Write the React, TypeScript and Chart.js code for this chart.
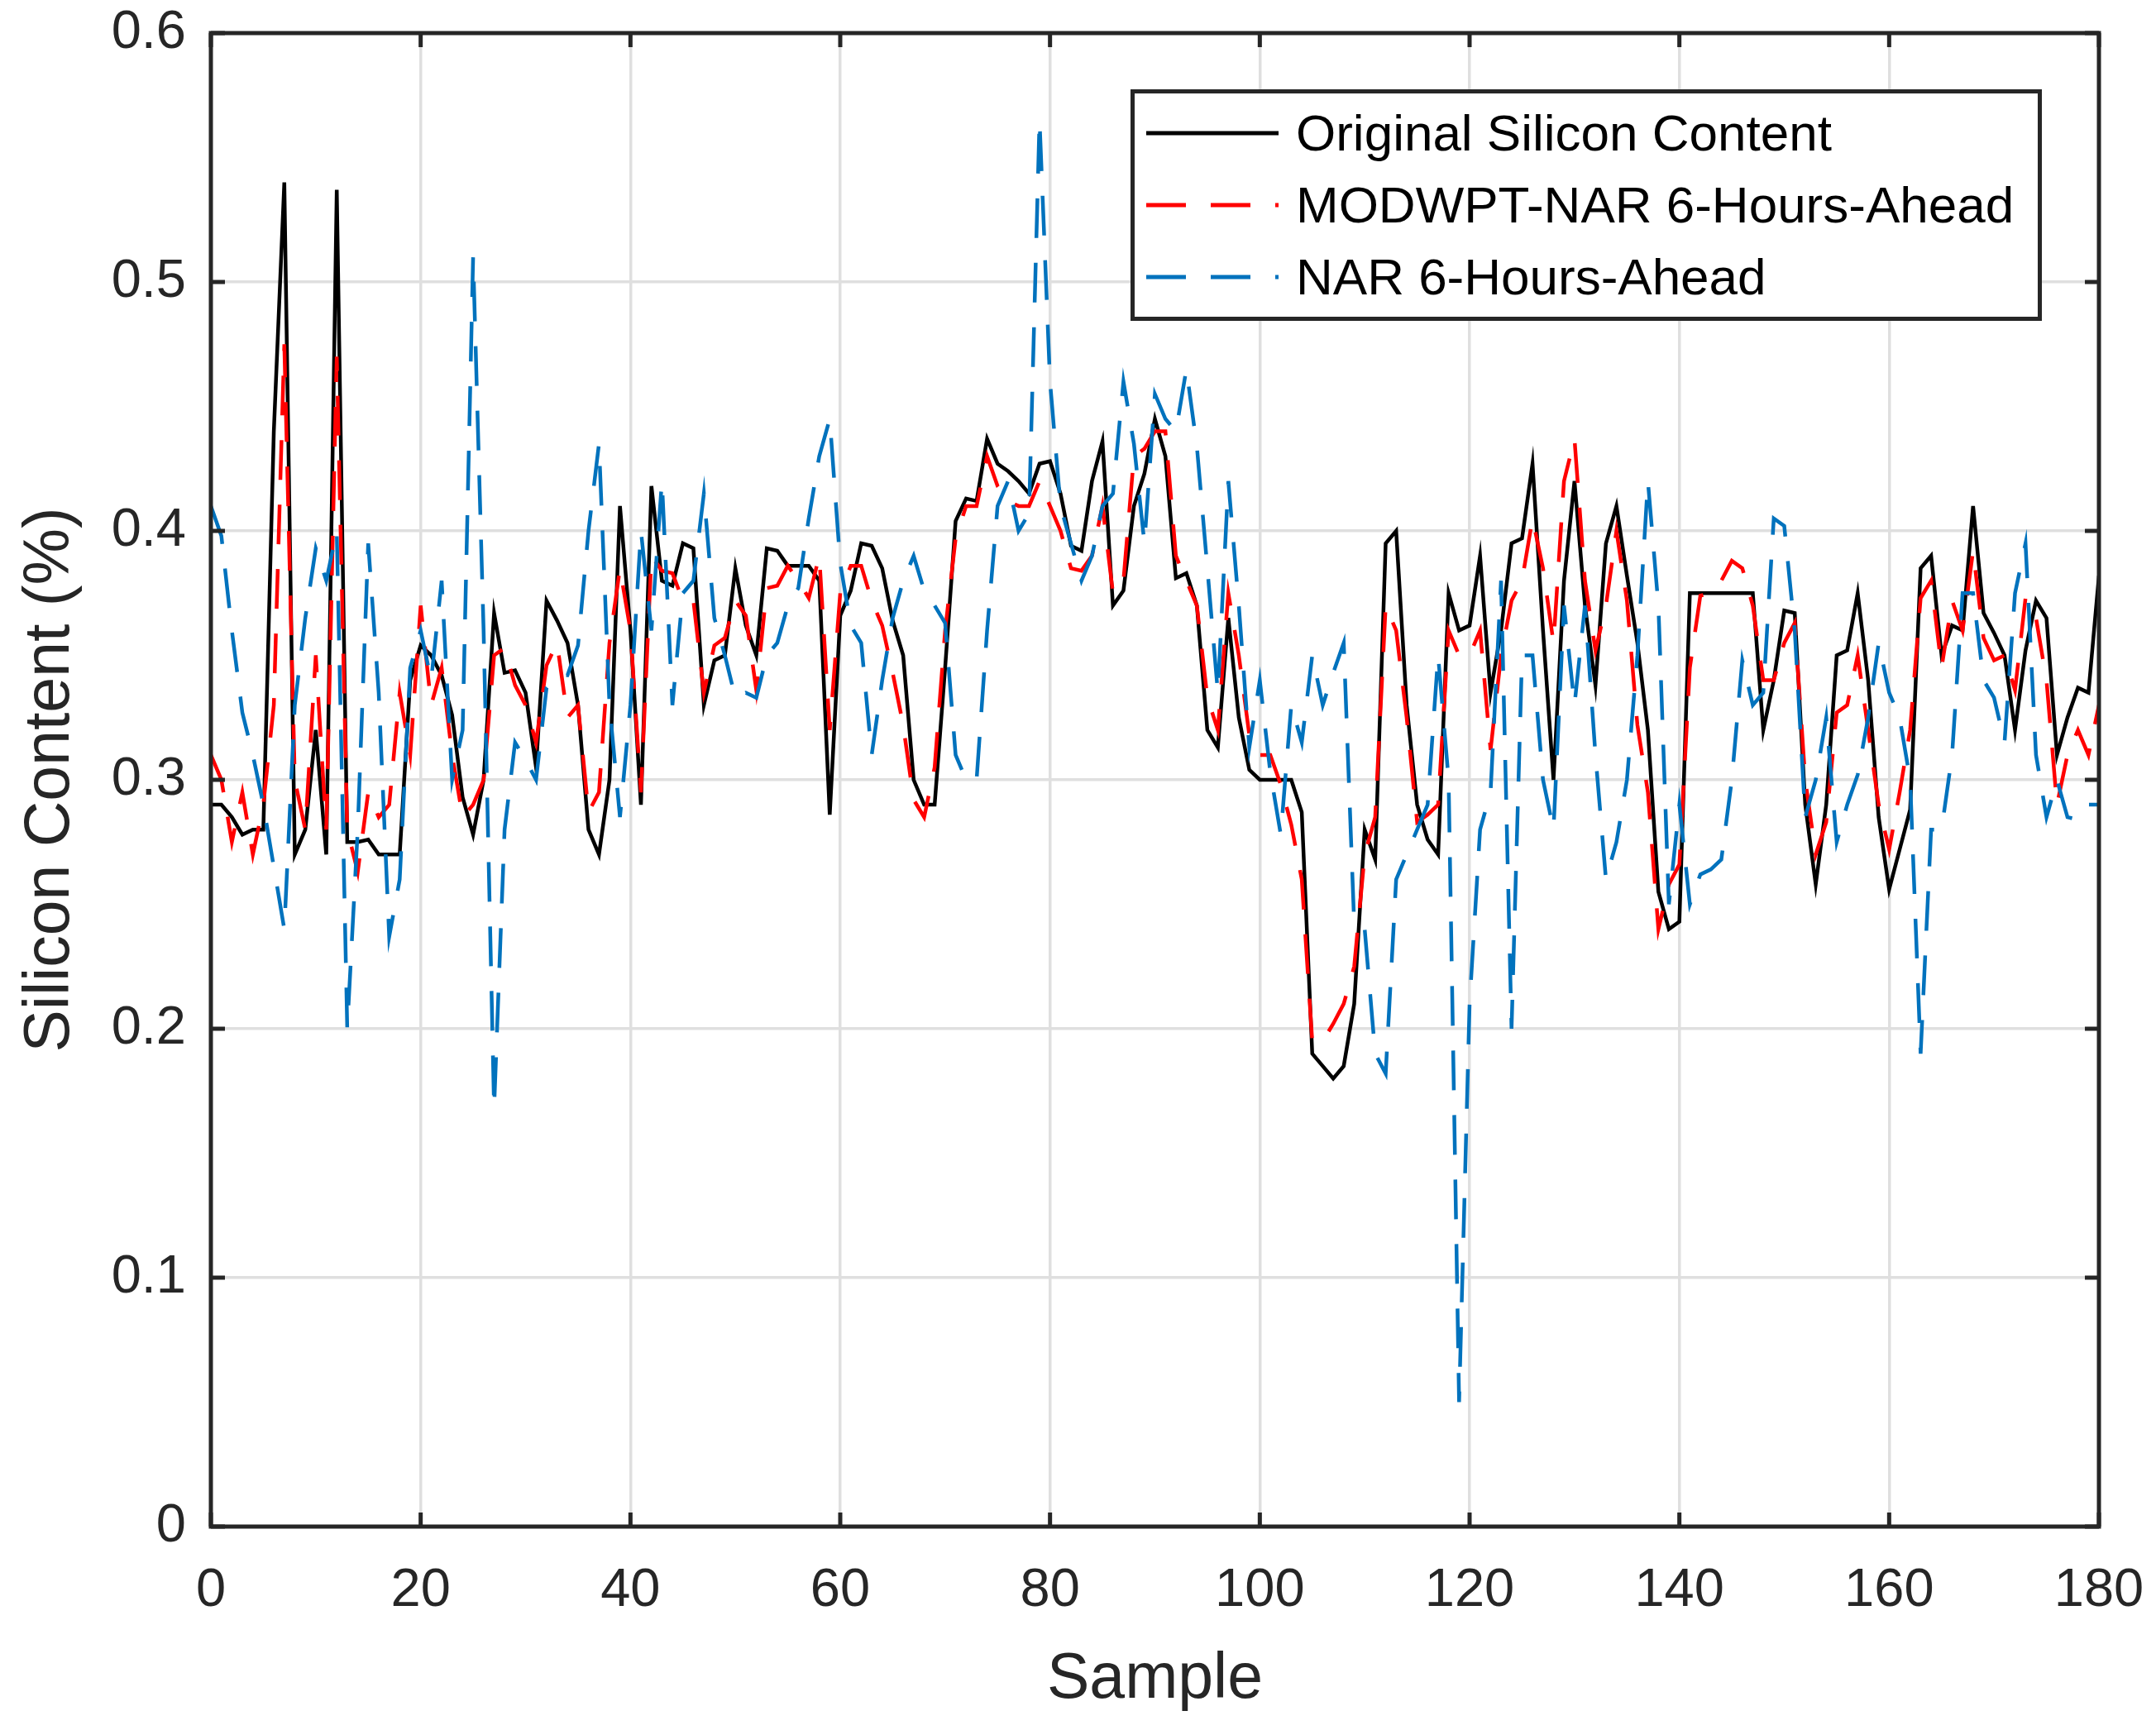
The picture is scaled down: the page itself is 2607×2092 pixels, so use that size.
import React, { useEffect, useRef } from 'react';
import Chart from 'chart.js/auto';

// === Data (one value per sample 0..180) ===
const SAMPLE_MIN = 0;
const SAMPLE_MAX = 180;
const SAMPLE_STEP = 20;
const VALUE_MIN = 0;
const VALUE_MAX = 0.6;
const VALUE_STEP = 0.1;

const ORIGINAL_SILICON = [
  0.29, 0.29, 0.285, 0.278, 0.28, 0.28, 0.44, 0.54, 0.27, 0.28,
  0.32, 0.27, 0.537, 0.275, 0.275, 0.276, 0.27, 0.27, 0.27, 0.34,
  0.354, 0.35, 0.342, 0.326, 0.293, 0.278, 0.3, 0.367, 0.343, 0.344,
  0.335, 0.305, 0.372, 0.364, 0.355, 0.33, 0.28, 0.27, 0.3, 0.41,
  0.36, 0.29, 0.418, 0.38, 0.378, 0.395, 0.393, 0.33, 0.348, 0.35,
  0.385, 0.362, 0.35, 0.393, 0.392, 0.386, 0.386, 0.386, 0.38, 0.286,
  0.366, 0.376, 0.395, 0.394, 0.385, 0.364, 0.35, 0.3, 0.29, 0.29,
  0.345, 0.404, 0.413, 0.412, 0.437, 0.427, 0.424, 0.42, 0.415, 0.427,
  0.428, 0.415, 0.394, 0.392, 0.42, 0.436, 0.37, 0.376, 0.41, 0.423,
  0.445, 0.43, 0.381, 0.383, 0.37, 0.32, 0.313, 0.365, 0.325, 0.304,
  0.3, 0.3, 0.3, 0.3, 0.287, 0.19, 0.185, 0.18, 0.185, 0.21,
  0.28, 0.268, 0.395, 0.4, 0.33, 0.29, 0.276, 0.27, 0.375, 0.36,
  0.362, 0.39, 0.335, 0.36, 0.395, 0.397, 0.427, 0.36, 0.3, 0.38,
  0.42, 0.37, 0.338, 0.395, 0.41, 0.382, 0.355, 0.32, 0.255, 0.24,
  0.243, 0.375, 0.375, 0.375, 0.375, 0.375, 0.375, 0.375, 0.32, 0.34,
  0.368, 0.367, 0.29, 0.258, 0.29, 0.35, 0.352, 0.375, 0.34, 0.285,
  0.256, 0.272, 0.288, 0.385, 0.39, 0.35, 0.362, 0.36, 0.41, 0.367,
  0.359, 0.35, 0.32, 0.352, 0.372, 0.365, 0.31, 0.325, 0.337, 0.335,
  0.382,
];

const MODWPT_NAR_6H = [
  0.31, 0.3, 0.275, 0.295, 0.27, 0.29, 0.33, 0.475, 0.3, 0.28,
  0.35, 0.28, 0.47, 0.28, 0.263, 0.295, 0.285, 0.29, 0.335, 0.31,
  0.37, 0.33, 0.345, 0.31, 0.285, 0.29, 0.3, 0.35, 0.353, 0.338,
  0.33, 0.315, 0.346, 0.355, 0.325, 0.33, 0.287, 0.295, 0.355, 0.385,
  0.36, 0.295, 0.39, 0.384, 0.383, 0.372, 0.372, 0.335, 0.354, 0.357,
  0.372, 0.366, 0.336, 0.377, 0.378, 0.386, 0.38, 0.373, 0.39, 0.32,
  0.375, 0.386, 0.386, 0.372, 0.362, 0.343, 0.322, 0.292, 0.285, 0.305,
  0.36, 0.397, 0.41, 0.41, 0.43, 0.418, 0.412, 0.41, 0.41, 0.42,
  0.41, 0.4, 0.385, 0.384, 0.39, 0.41, 0.375, 0.38, 0.43, 0.433,
  0.44, 0.44, 0.39, 0.38, 0.37, 0.333, 0.32, 0.375, 0.35, 0.318,
  0.31, 0.31, 0.298, 0.282, 0.26, 0.195, 0.195, 0.202, 0.21, 0.225,
  0.27, 0.285, 0.37, 0.36, 0.325, 0.283, 0.286, 0.29, 0.36, 0.35,
  0.35, 0.36, 0.312, 0.35, 0.372, 0.38, 0.405, 0.385, 0.355, 0.42,
  0.437, 0.38, 0.352, 0.37, 0.4, 0.372, 0.322, 0.295, 0.24, 0.258,
  0.266, 0.345, 0.374, 0.375, 0.38, 0.388, 0.385, 0.37, 0.34, 0.34,
  0.355, 0.363, 0.3, 0.27, 0.283, 0.327, 0.33, 0.35, 0.32, 0.29,
  0.272, 0.295, 0.32, 0.373, 0.38, 0.345, 0.372, 0.36, 0.392, 0.357,
  0.348, 0.35, 0.336, 0.373, 0.365, 0.34, 0.29, 0.31, 0.32, 0.31,
  0.33,
];

const NAR_6H = [
  0.41, 0.398, 0.36, 0.327, 0.31, 0.29, 0.265, 0.24, 0.33, 0.365,
  0.393, 0.38, 0.4, 0.2, 0.28, 0.395, 0.335, 0.237, 0.26, 0.345,
  0.36, 0.34, 0.38, 0.3, 0.32, 0.51, 0.36, 0.168, 0.28, 0.315,
  0.308, 0.3, 0.337, 0.342, 0.342, 0.354, 0.4, 0.435, 0.33, 0.285,
  0.33, 0.4, 0.36, 0.42, 0.33, 0.375, 0.38, 0.415, 0.365, 0.35,
  0.333, 0.335, 0.333, 0.35, 0.355, 0.37, 0.377, 0.405, 0.43, 0.445,
  0.387, 0.362, 0.355, 0.31, 0.34, 0.365, 0.38, 0.39, 0.376, 0.37,
  0.363, 0.31, 0.3, 0.3, 0.36, 0.41, 0.42, 0.4, 0.407, 0.565,
  0.46, 0.41, 0.395, 0.38, 0.39, 0.41, 0.415, 0.46, 0.435, 0.395,
  0.455, 0.445, 0.44, 0.465, 0.434, 0.385, 0.335, 0.42, 0.37, 0.313,
  0.34, 0.303, 0.278, 0.33, 0.315, 0.35, 0.33, 0.343, 0.355, 0.242,
  0.24, 0.19, 0.182, 0.26, 0.27, 0.28, 0.29, 0.35, 0.3, 0.05,
  0.21, 0.28, 0.295, 0.38, 0.2, 0.35, 0.35, 0.3, 0.28, 0.37,
  0.33, 0.37, 0.31, 0.26, 0.275, 0.3, 0.35, 0.42, 0.37, 0.25,
  0.29, 0.25, 0.262, 0.264, 0.268, 0.3, 0.348, 0.33, 0.335, 0.405,
  0.402, 0.36, 0.285, 0.3, 0.325, 0.275, 0.29, 0.302, 0.325, 0.355,
  0.335, 0.325, 0.3, 0.19, 0.28, 0.28, 0.31, 0.375, 0.375, 0.34,
  0.333, 0.315, 0.375, 0.395, 0.31, 0.285, 0.3, 0.285, 0.284, 0.29,
  0.29,
];

const SERIES = [
  { label: 'Original Silicon Content', values: ORIGINAL_SILICON, color: '#000000', dash: [] as number[] },
  { label: 'MODWPT-NAR 6-Hours-Ahead', values: MODWPT_NAR_6H, color: '#ff0000', dash: [48, 30] },
  { label: 'NAR 6-Hours-Ahead', values: NAR_6H, color: '#0072bd', dash: [48, 30] },
];

const X_TITLE = 'Sample';
const Y_TITLE = 'Silicon Content (%)';

// === Look ===
const W = 2607;
const H = 2092;
const AREA = { left: 255, top: 40, right: 2538, bottom: 1846 };
const FONT = '"Liberation Sans", Arial, Helvetica, sans-serif';
const AXIS_COLOR = '#262626';
const GRID_COLOR = '#dfdfdf';
const TICK_LEN = 17;

// MATLAB style box with inward ticks on all four sides
const boxPlugin = {
  id: 'matlabBox',
  afterDatasetsDraw(chart: any) {
    const { ctx, chartArea: a, scales } = chart;
    const xs = scales.x;
    const ys = scales.y;
    ctx.save();
    ctx.strokeStyle = AXIS_COLOR;
    ctx.lineWidth = 5;
    ctx.beginPath();
    xs.ticks.forEach((t: any) => {
      const px = xs.getPixelForValue(t.value);
      ctx.moveTo(px, a.bottom);
      ctx.lineTo(px, a.bottom - TICK_LEN);
      ctx.moveTo(px, a.top);
      ctx.lineTo(px, a.top + TICK_LEN);
    });
    ys.ticks.forEach((t: any) => {
      const py = ys.getPixelForValue(t.value);
      ctx.moveTo(a.left, py);
      ctx.lineTo(a.left + TICK_LEN, py);
      ctx.moveTo(a.right, py);
      ctx.lineTo(a.right - TICK_LEN, py);
    });
    ctx.stroke();
    ctx.strokeRect(a.left, a.top, a.right - a.left, a.bottom - a.top);
    ctx.restore();
  },
};

const LegendLine: React.FC<{ color: string; dash: number[] }> = ({ color, dash }) => (
  <svg width={160} height={10} style={{ display: 'block' }}>
    <line
      x1={0}
      y1={5}
      x2={160}
      y2={5}
      stroke={color}
      strokeWidth={5}
      strokeDasharray={dash.length ? dash.join(' ') : undefined}
    />
  </svg>
);

export default function App() {
  const canvasRef = useRef<HTMLCanvasElement>(null);

  useEffect(() => {
    document.body.style.margin = '0';
    if (!canvasRef.current) return;

    const chart = new Chart(canvasRef.current, {
      type: 'line',
      data: {
        datasets: SERIES.map((s, i) => ({
          label: s.label,
          data: s.values.map((v, k) => ({ x: SAMPLE_MIN + k, y: v })),
          borderColor: s.color,
          backgroundColor: s.color,
          borderWidth: 4.5,
          borderDash: s.dash,
          pointRadius: 0,
          tension: 0,
          fill: false,
          order: SERIES.length - i,
        })),
      },
      options: {
        animation: false,
        responsive: true,
        maintainAspectRatio: false,
        devicePixelRatio: 1,
        layout: { padding: { left: 0, top: AREA.top, right: W - AREA.right, bottom: 0 } },
        plugins: {
          legend: { display: false },
          tooltip: { enabled: false },
        },
        scales: {
          x: {
            type: 'linear',
            min: SAMPLE_MIN,
            max: SAMPLE_MAX,
            afterFit: (scale: any) => {
              scale.height = H - AREA.bottom;
              scale.paddingLeft = 0;
              scale.paddingRight = 0;
            },
            ticks: {
              stepSize: SAMPLE_STEP,
              padding: 39,
              color: AXIS_COLOR,
              font: { family: FONT, size: 65 },
              maxRotation: 0,
            },
            grid: { color: GRID_COLOR, lineWidth: 3.5, drawTicks: false },
            border: { display: false },
            title: {
              display: true,
              text: X_TITLE,
              color: AXIS_COLOR,
              font: { family: FONT, size: 77 },
              padding: { top: 0, bottom: 14 },
            },
          },
          y: {
            type: 'linear',
            min: VALUE_MIN,
            max: VALUE_MAX,
            afterFit: (scale: any) => {
              scale.width = AREA.left;
              scale.paddingTop = 0;
              scale.paddingBottom = 0;
            },
            ticks: {
              stepSize: VALUE_STEP,
              padding: 30,
              color: AXIS_COLOR,
              font: { family: FONT, size: 65 },
            },
            grid: { color: GRID_COLOR, lineWidth: 3.5, drawTicks: false },
            border: { display: false },
            title: {
              display: true,
              text: Y_TITLE,
              color: AXIS_COLOR,
              font: { family: FONT, size: 77 },
              padding: { top: 16, bottom: 0 },
            },
          },
        },
      },
      plugins: [boxPlugin],
    });

    return () => {
      chart.destroy();
    };
  }, []);

  const rowCenters = [161, 248, 335];

  return (
    <div style={{ position: 'relative', width: W, height: H, background: '#ffffff' }}>
      <canvas ref={canvasRef} />
      <div
        style={{
          position: 'absolute',
          left: 1367,
          top: 108,
          width: 1102,
          height: 280,
          boxSizing: 'border-box',
          border: `5px solid ${AXIS_COLOR}`,
          background: '#ffffff',
        }}
      >
        {SERIES.map((s, i) => (
          <div
            key={s.label}
            style={{
              position: 'absolute',
              left: 14,
              top: rowCenters[i] - 108 - 5 - 40,
              height: 80,
              display: 'flex',
              alignItems: 'center',
              whiteSpace: 'nowrap',
            }}
          >
            <LegendLine color={s.color} dash={s.dash} />
            <span
              style={{
                marginLeft: 21,
                fontFamily: FONT,
                fontSize: 62,
                color: '#000000',
                lineHeight: '80px',
              }}
            >
              {s.label}
            </span>
          </div>
        ))}
      </div>
    </div>
  );
}
